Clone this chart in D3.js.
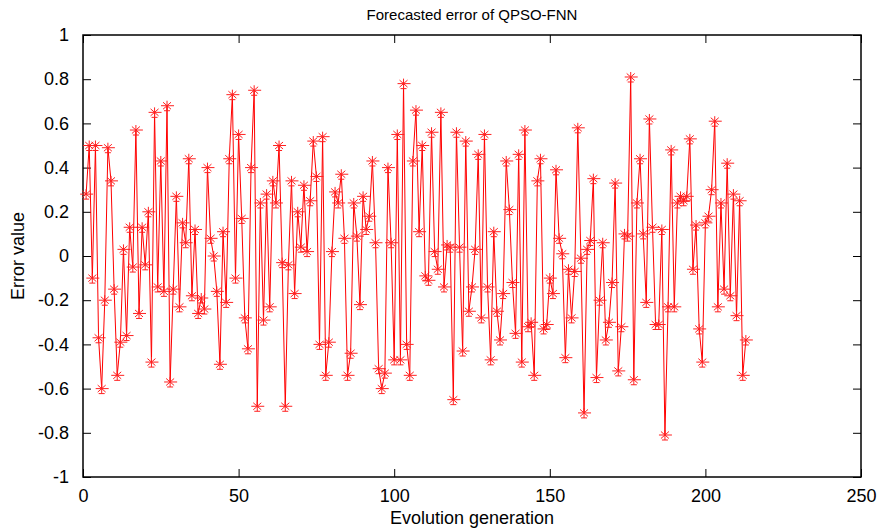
<!DOCTYPE html>
<html>
<head>
<meta charset="utf-8">
<script src="https://cdn.jsdelivr.net/npm/d3@7"></script>
<style>
  body { margin: 0; background: #fff; }
  text { font-family: "Liberation Sans", Arial, sans-serif; fill: #000; }
</style>
</head>
<body>
<div id="chart-area"></div>
<script>
// forecast error per generation
var errorValues = [
    0.28, 0.50, -0.10, 0.50, -0.37, -0.60, -0.20, 0.49, 0.34, -0.15,
    -0.54, -0.39, 0.03, -0.36, 0.13, -0.05, 0.57, -0.26, 0.13, -0.04,
    0.20, -0.48, 0.65, -0.14, 0.43, -0.16, 0.68, -0.57, -0.15, 0.27,
    -0.23, 0.15, 0.06, 0.44, -0.18, 0.12, -0.26, -0.19, -0.24, 0.40,
    0.08, 0.00, -0.16, -0.49, 0.11, -0.21, 0.44, 0.73, -0.10, 0.55,
    0.17, -0.28, -0.42, 0.40, 0.75, -0.68, 0.24, -0.29, 0.28, -0.23,
    0.34, 0.24, 0.50, -0.03, -0.68, -0.04, 0.34, -0.17, 0.20, 0.04,
    0.32, 0.02, 0.25, 0.52, 0.36, -0.40, 0.54, -0.54, -0.39, 0.02,
    0.29, 0.24, 0.37, 0.08, -0.54, -0.44, 0.24, 0.09, -0.22, 0.27,
    0.12, 0.18, 0.43, 0.06, -0.51, -0.60, -0.53, 0.40, 0.06, -0.47,
    0.55, -0.47, 0.78, -0.40, -0.54, 0.43, 0.66, 0.11, 0.50, -0.09,
    -0.11, 0.56, 0.02, -0.06, 0.65, -0.14, 0.05, 0.04, -0.65, 0.56,
    0.04, -0.43, 0.52, -0.25, -0.14, 0.03, 0.46, -0.28, 0.55, -0.14,
    -0.47, 0.11, -0.25, -0.38, -0.17, 0.43, 0.21, -0.12, -0.35, 0.46,
    -0.48, 0.57, -0.32, -0.30, -0.54, 0.34, 0.44, -0.33, -0.31, -0.10,
    -0.17, 0.39, 0.08, 0.01, -0.46, -0.06, -0.28, -0.07, 0.58, -0.01,
    -0.71, 0.03, 0.07, 0.35, -0.55, -0.20, 0.06, -0.38, -0.30, -0.12,
    0.33, -0.52, -0.32, 0.10, 0.09, 0.81, -0.56, 0.24, 0.44, 0.10,
    -0.21, 0.62, 0.13, -0.31, -0.31, 0.12, -0.81, -0.23, 0.48, -0.23,
    0.24, 0.27, 0.25, 0.27, 0.53, -0.06, 0.14, -0.33, -0.48, 0.15,
    0.18, 0.30, 0.61, -0.23, 0.24, -0.15, 0.42, -0.18, 0.28, -0.27,
    0.25, -0.54, -0.38
];

var xTicks = [0, 50, 100, 150, 200, 250];
var yTicks = [-1, -0.8, -0.6, -0.4, -0.2, 0, 0.2, 0.4, 0.6, 0.8, 1];
var yTickLabels = ["-1", "-0.8", "-0.6", "-0.4", "-0.2", "0", "0.2", "0.4", "0.6", "0.8", "1"];

var titleText = "Forecasted error of QPSO-FNN";
var xLabelText = "Evolution generation";
var yLabelText = "Error value";

var margin = { top: 35, bottom: 52, left: 83, right: 18 };
var totalW = 879, totalH = 529;
var width  = totalW - margin.left - margin.right;
var height = totalH - margin.top - margin.bottom;
var tickLen = 8;

var svg = d3.select("#chart-area")
    .append("svg")
        .attr("width", totalW)
        .attr("height", totalH);

var g = svg.append("g")
    .attr("transform", "translate(" + margin.left + ", " + margin.top + ")");

var x = d3.scaleLinear().domain([0, 250]).range([0, width]);
var y = d3.scaleLinear().domain([-1, 1]).range([height, 0]);

// ticks on all four sides, pointing inward (matlab box)
var xAxisBottom = d3.axisBottom(x).tickValues(xTicks).tickSize(-tickLen).tickPadding(tickLen + 4)
    .tickFormat(function(d) { return d; });
var xAxisTop = d3.axisTop(x).tickValues(xTicks).tickSize(-tickLen).tickFormat("");
var yAxisLeft = d3.axisLeft(y).tickValues(yTicks).tickSize(-tickLen).tickPadding(tickLen + 6)
    .tickFormat(function(d, i) { return yTickLabels[i]; });
var yAxisRight = d3.axisRight(y).tickValues(yTicks).tickSize(-tickLen).tickFormat("");

g.append("g")
    .attr("class", "x-axis")
    .attr("transform", "translate(0, " + height + ")")
    .call(xAxisBottom);
g.append("g")
    .attr("class", "x-axis-top")
    .call(xAxisTop);
g.append("g")
    .attr("class", "y-axis")
    .call(yAxisLeft);
g.append("g")
    .attr("class", "y-axis-right")
    .attr("transform", "translate(" + width + ", 0)")
    .call(yAxisRight);

g.selectAll(".domain").remove();
g.selectAll(".tick line").attr("stroke", "#000").attr("stroke-width", 1);
g.selectAll(".tick text")
    .attr("font-size", "18px")
    .attr("font-family", "Liberation Sans, Arial, sans-serif")
    .attr("fill", "#000");

g.append("rect")
    .attr("x", 0)
    .attr("y", 0)
    .attr("width", width)
    .attr("height", height)
    .attr("fill", "none")
    .attr("stroke", "#000")
    .attr("stroke-width", 1.5);

// series line
var line = d3.line()
    .x(function(d, i) { return x(i + 1); })
    .y(function(d) { return y(d); });

g.append("path")
    .datum(errorValues)
    .attr("fill", "none")
    .attr("stroke", "#ff0000")
    .attr("stroke-width", 1)
    .attr("d", line);

// asterisk markers, a bit wider than tall like the original
var star = "M-6,0H7M0,-5V5M-4,-3.5L4,3.5M-4,3.5L4,-3.5M-3,5H3";
g.selectAll(".mark")
    .data(errorValues)
    .enter()
    .append("path")
        .attr("class", "mark")
        .attr("transform", function(d, i) {
            return "translate(" + x(i + 1) + "," + y(d) + ")";
        })
        .attr("d", star)
        .attr("fill", "none")
        .attr("stroke", "#ff2020")
        .attr("stroke-width", 1);

// title and labels
svg.append("text")
    .attr("x", margin.left + width / 2)
    .attr("y", 20)
    .attr("font-size", "15px")
    .attr("text-anchor", "middle")
    .text(titleText);

svg.append("text")
    .attr("x", margin.left + width / 2)
    .attr("y", 524)
    .attr("font-size", "18px")
    .attr("text-anchor", "middle")
    .text(xLabelText);

svg.append("text")
    .attr("x", -(margin.top + height / 2))
    .attr("y", 24)
    .attr("font-size", "18px")
    .attr("text-anchor", "middle")
    .attr("transform", "rotate(-90)")
    .text(yLabelText);
</script>
</body>
</html>
